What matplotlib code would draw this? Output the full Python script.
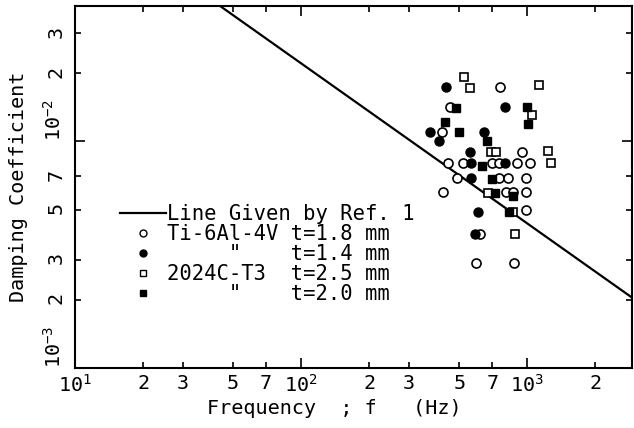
import numpy as np
import matplotlib.pyplot as plt
from matplotlib.lines import Line2D

# -------------------------------------------------------------------------
# DATA
# -------------------------------------------------------------------------
# line given by Ref. 1 (clipped to the plot window)
ref_f = [43.8, 2890]
ref_d = [0.0395, 0.00205]

# Ti-6Al-4V  t=1.8 mm  (open circles)
ti18_f = [757, 455, 419, 947, 444, 517, 701, 746, 900, 1031, 489, 752, 818, 987,
          425, 805, 861, 987, 987, 619, 593, 876]
ti18_d = [0.0174, 0.0142, 0.0110, 0.0090, 0.0080, 0.0080, 0.0080, 0.0080, 0.0080,
          0.0080, 0.0069, 0.0069, 0.0069, 0.0069, 0.0060, 0.0060, 0.0060, 0.0060,
          0.0050, 0.0039, 0.0029, 0.0029]

# Ti-6Al-4V  t=1.4 mm  (filled circles)
ti14_f = [437, 797, 372, 641, 405, 558, 564, 797, 564, 603, 589]
ti14_d = [0.0174, 0.0141, 0.0110, 0.0110, 0.0100, 0.0090, 0.0080, 0.0080, 0.0069,
          0.0049, 0.0039]

# 2024C-T3  t=2.5 mm  (open squares)
al25_f = [526, 558, 1130, 1049, 691, 727, 1239, 1273, 667, 867, 885]
al25_d = [0.0193, 0.0172, 0.0177, 0.0131, 0.0090, 0.0090, 0.0091, 0.0080, 0.0059,
          0.0049, 0.0039]

# 2024C-T3  t=2.0 mm  (filled squares)
al20_f = [484, 997, 432, 1003, 500, 661, 630, 701, 719, 861, 832]
al20_d = [0.0140, 0.0142, 0.0121, 0.0119, 0.0110, 0.0100, 0.0078, 0.0068, 0.0059,
          0.00575, 0.0049]

x_major = [10, 100, 1000]
x_major_labels = [r"$10^{1}$", r"$10^{2}$", r"$10^{3}$"]
x_minor = [20, 30, 50, 70, 200, 300, 500, 700, 2000]
x_minor_labels = ["2", "3", "5", "7", "2", "3", "5", "7", "2"]

y_major = [1e-3, 1e-2]
y_major_labels = [r"$10^{-3}$", r"$10^{-2}$"]
y_minor = [2e-3, 3e-3, 5e-3, 7e-3, 2e-2, 3e-2]
y_minor_labels = ["2", "3", "5", "7", "2", "3"]

legend_labels = [
    "Line Given by Ref. 1",
    "Ti-6Al-4V t=1.8 mm",
    '     "    t=1.4 mm',
    "2024C-T3  t=2.5 mm",
    '     "    t=2.0 mm',
]

# -------------------------------------------------------------------------
# STYLE
# -------------------------------------------------------------------------
plt.rcParams["font.family"] = "DejaVu Sans Mono"
plt.rcParams["mathtext.fontset"] = "custom"
plt.rcParams["mathtext.rm"] = "DejaVu Sans Mono"
plt.rcParams["mathtext.it"] = "DejaVu Sans Mono"
plt.rcParams["mathtext.default"] = "rm"
fs = 14.5

fig = plt.figure(figsize=(6.34, 4.28), dpi=100)
ax = fig.add_axes([0.1183, 0.1402, 0.8785, 0.8458])

# -------------------------------------------------------------------------
# PLOT
# -------------------------------------------------------------------------
ax.plot(ref_f, ref_d, "-", color="black", lw=1.6)

ms = 6.5
ax.plot(ti18_f, ti18_d, "o", ls="none", mfc="white", mec="black", mew=1.2, ms=ms)
ax.plot(ti14_f, ti14_d, "o", ls="none", mfc="black", mec="black", ms=ms)
ax.plot(al25_f, al25_d, "s", ls="none", mfc="white", mec="black", mew=1.2, ms=ms - 0.8)
ax.plot(al20_f, al20_d, "s", ls="none", mfc="black", mec="black", ms=ms - 0.8)

ax.set_xscale("log")
ax.set_yscale("log")
ax.set_xlim(10, 2900)
ax.set_ylim(1e-3, 3.95e-2)

ax.set_xticks(x_major)
ax.set_xticklabels(x_major_labels)
ax.set_xticks(x_minor, minor=True)
ax.set_xticklabels(x_minor_labels, minor=True)
ax.set_yticks(y_major)
ax.set_yticklabels(y_major_labels, rotation=90, va="bottom")
ax.set_yticks(y_minor, minor=True)
ax.set_yticklabels(y_minor_labels, minor=True, rotation=90)

ax.tick_params(which="both", direction="in", top=True, right=True,
               labelsize=fs, width=1.2)
ax.tick_params(which="major", length=7)
ax.tick_params(which="minor", length=4)
ax.tick_params(axis="x", which="both", pad=4)
ax.tick_params(axis="y", which="both", pad=7)

for sp in ax.spines.values():
    sp.set_linewidth(1.5)

ax.set_xlabel("Frequency  ; f   (Hz)", fontsize=fs)
ax.xaxis.set_label_coords(0.465, -0.085)
ax.set_ylabel("Damping Coefficient", fontsize=fs)
ax.yaxis.set_label_coords(-0.085, 0.5)

# legend, drawn as in the original
handles = [
    Line2D([], [], color="black", lw=1.6),
    Line2D([], [], marker="o", ls="none", mfc="white", mec="black", mew=1.0, ms=5),
    Line2D([], [], marker="o", ls="none", mfc="black", mec="black", ms=5),
    Line2D([], [], marker="s", ls="none", mfc="white", mec="black", mew=1.0, ms=4.5),
    Line2D([], [], marker="s", ls="none", mfc="black", mec="black", ms=4.5),
]
ax.legend(handles, legend_labels, loc="upper left", bbox_to_anchor=(0.081, 0.453),
          frameon=False, handlelength=2.25, handletextpad=0.05, labelspacing=0.0,
          borderpad=0, borderaxespad=0, prop={"size": 14.8})

fig.savefig("out.png", dpi=100)
